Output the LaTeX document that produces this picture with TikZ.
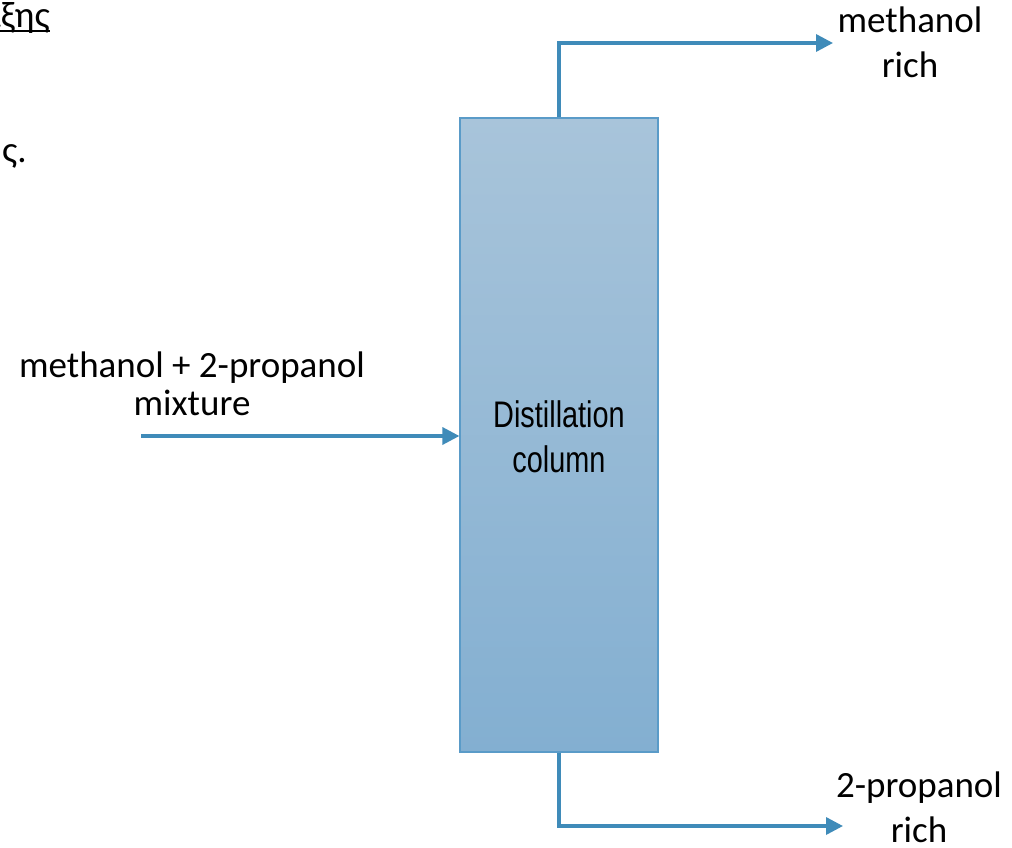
\documentclass[tikz,border=0pt]{standalone}
\usepackage{fontspec}
\setmainfont{Carlito}
\newfontfamily\colfont[FakeStretch=0.78]{Liberation Sans}
\usetikzlibrary{arrows.meta}
\definecolor{flow}{HTML}{3F8BB9}
\definecolor{colTop}{HTML}{A8C4DA}
\definecolor{colBot}{HTML}{83AFD1}
\definecolor{colEdge}{HTML}{5A9BC8}
\tikzset{
  flowline/.style={draw=flow, line width=3.4pt, -{Triangle[length=17pt,width=17pt]}},
  lbl/.style={font=\fontsize{37pt}{45pt}\selectfont, align=center, inner sep=0pt, text=black},
}
\begin{document}
\begin{tikzpicture}[x=1pt,y=-1pt]
\useasboundingbox (0,0) rectangle (1012,848);
\clip (0,0) rectangle (1012,848);
\fill[white] (0,0) rectangle (1012,848);
% partially visible slide text
\node[lbl, anchor=base east] (gr1) at (50,28) {απόσταξης};
\draw[line width=2pt] (0,31) -- (50,31);
\node[lbl, anchor=base west] (gr2) at (2,163) {ς.};
% column
\node[draw=colEdge, line width=1.2pt, top color=colTop, bottom color=colBot,
      minimum width=198pt, minimum height=634pt, inner sep=0pt] (col) at (559,435) {};
\node[font=\colfont\fontsize{37pt}{45pt}\selectfont, align=center, inner sep=0pt, anchor=base] (coltxt) at (559,472) {Distillation\\column};
% streams
\coordinate (inS) at (141,436);
\coordinate (topE) at (833,43);
\coordinate (botE) at (843,826);
\draw[flowline] (inS) -- (inS -| col.west);
\draw[flowline] (col.north) |- (topE);
\draw[flowline] (col.south) |- (botE);
% labels
\node[lbl, anchor=base] (lin) at (192,415) {methanol + 2-propanol\\[-7pt]mixture};
\node[lbl, anchor=base] (ltop) at (910,78) {methanol\\rich};
\node[lbl, anchor=base] (lbot) at (919,842) {2-propanol\\rich};
\end{tikzpicture}
\end{document}
